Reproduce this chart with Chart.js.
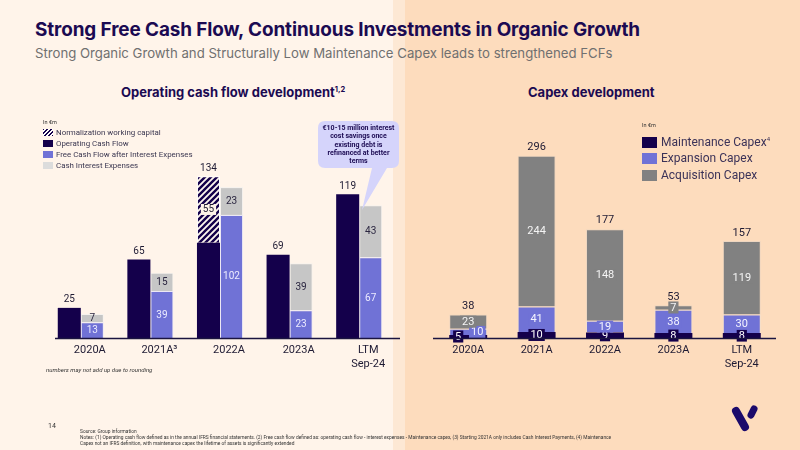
<!DOCTYPE html>
<html>
<head>
<meta charset="utf-8">
<script src="https://cdn.jsdelivr.net/npm/chart.js@4.4.1/dist/chart.umd.min.js"></script>
<style>
body{margin:0;}
#slide{position:relative;width:800px;height:450px;overflow:hidden;font-family:Roboto,sans-serif;
  background:linear-gradient(to right,#fff4ea 0,#fff4ea 393px,#fde8d4 393px,#fde8d4 405px,#fddcbd 405px);}
.abs{position:absolute;white-space:nowrap;}
#title{left:35px;top:18px;font-family:Inter,sans-serif;font-size:18.9px;font-weight:700;color:#1b0a52;letter-spacing:-0.1px;}
#subtitle{left:35px;top:45px;font-family:Inter,sans-serif;font-size:13.2px;color:#707070;}
.sect{top:84px;font-family:Inter,sans-serif;font-size:13px;font-weight:700;color:#1b0a52;}
.sect sup{font-size:7.5px;}
.unit{font-size:5.5px;color:#333;}
.legA div.row{height:11px;line-height:11px;font-size:7.9px;color:#3a3650;display:flex;align-items:center;}
.legA .sw{width:10px;height:7px;margin-right:3px;display:inline-block;}
.legB div.row{height:16.5px;line-height:16.5px;font-size:12px;color:#3b3258;display:flex;align-items:center;}
.legB .sw{width:15px;height:11px;margin-right:4px;display:inline-block;}
.hatch{background:repeating-linear-gradient(135deg,#14004b 0 1.4px,#fff 1.4px 2.8px);}
#callout{left:318px;top:121px;width:81px;height:47px;font-size:7px;font-weight:700;color:#1b0a52;
  text-align:center;line-height:8.3px;padding-top:3px;box-sizing:border-box;}
#note{left:46px;top:366px;font-size:6px;font-style:italic;color:#333;}
#page{left:48px;top:422px;font-size:7px;color:#333;}
#foot{left:80px;top:429px;font-size:4.85px;line-height:6px;color:#333;}
.cv{position:absolute;top:100px;width:400px;height:300px;}
</style>
</head>
<body>
<div id="slide">
  <div class="abs" id="title">Strong Free Cash Flow, Continuous Investments in Organic Growth</div>
  <div class="abs" id="subtitle">Strong Organic Growth and Structurally Low Maintenance Capex leads to strengthened FCFs</div>
  <div class="abs sect" style="left:121px;">Operating cash flow development<sup>1,2</sup></div>
  <div class="abs sect" style="left:528px;">Capex development</div>

  <div class="cv" style="left:0;"><canvas id="cfChart"></canvas></div>
  <div class="cv" style="left:400px;"><canvas id="capexChart"></canvas></div>

  <div class="abs legA" style="left:43px;top:119px;">
    <div class="unit" style="height:8px;">In €m</div>
    <div class="row"><span class="sw hatch"></span>Normalization working capital</div>
    <div class="row"><span class="sw" style="background:#14004b"></span>Operating Cash Flow</div>
    <div class="row"><span class="sw" style="background:#7072d6"></span>Free Cash Flow after Interest Expenses</div>
    <div class="row"><span class="sw" style="background:#dcdcdc"></span>Cash Interest Expenses</div>
  </div>

  <div class="abs legB" style="left:642px;top:122px;">
    <div class="unit" style="height:11.75px;">In €m</div>
    <div class="row"><span class="sw" style="background:#14004b"></span>Maintenance Capex<sup style="font-size:6px;line-height:0;position:relative;top:-3px;">4</sup></div>
    <div class="row"><span class="sw" style="background:#7072d6"></span>Expansion Capex</div>
    <div class="row"><span class="sw" style="background:#818181"></span>Acquisition Capex</div>
  </div>

  <svg class="abs" style="left:0;top:0;" width="800" height="450">
    <path d="M325 121 H392 Q399 121 399 128 V161 Q399 168 392 168 H387 L362 210 L372 168 H325 Q318 168 318 161 V128 Q318 121 325 121 Z" fill="#d5d4fb"/>
    <line x1="736" y1="411" x2="745" y2="427" stroke="#1b0a6b" stroke-width="8" stroke-linecap="round"/>
    <line x1="754" y1="409" x2="751" y2="415" stroke="#1b0a6b" stroke-width="7" stroke-linecap="round"/>
  </svg>
  <div class="abs" id="callout">€10-15 million interest<br>cost savings once<br>existing debt is<br>refinanced at better<br>terms</div>

  <div class="abs" id="note">numbers may not add up due to rounding</div>
  <div class="abs" id="page">14</div>
  <div class="abs" id="foot">Source: Group information<br>Notes: (1) Operating cash flow defined as in the annual IFRS financial statements. (2) Free cash flow defined as: operating cash flow - interest expenses - Maintenance capex, (3) Starting 2021A only includes Cash Interest Payments, (4) Maintenance<br>Capex not an IFRS definition, with maintenance capex the lifetime of assets is significantly extended</div>
</div>

<script>
// operating cash flow chart data (in €m)
var cfLabels = ['2020A', '2021A³', '2022A', '2023A', ['LTM', 'Sep-24']];
var ocf = [25, 65, 79, 69, 119];
var normalization = [null, null, 55, null, null];
var ocfTotal = [25, 65, 134, 69, 119];
var fcf = [13, 39, 102, 23, 67];
var interest = [7, 15, 23, 39, 43];

// capex chart data (in €m)
var capexLabels = ['2020A', '2021A', '2022A', '2023A', ['LTM', 'Sep-24']];
var maintenance = [5, 10, 9, 8, 8];
var expansion = [10, 41, 19, 38, 30];
var acquisition = [23, 244, 148, 7, 119];
var capexTotal = [38, 296, 177, 53, 157];

var NAVY = '#14004b';
var LAV = '#7072d6';

Chart.defaults.font.family = 'Roboto';
Chart.defaults.animation = false;

// hatched fill for normalization working capital
var pc = document.createElement('canvas');
pc.width = 6; pc.height = 6;
var px = pc.getContext('2d');
px.fillStyle = '#fdf6ee';
px.fillRect(0, 0, 6, 6);
px.strokeStyle = NAVY;
px.lineWidth = 2.4;
px.beginPath();
px.moveTo(-1, 7); px.lineTo(7, -1);
px.moveTo(-4, 4); px.lineTo(4, -4);
px.moveTo(2, 10); px.lineTo(10, 2);
px.stroke();
var hatch = px.createPattern(pc, 'repeat');

var valueLabels = {
  id: 'valueLabels',
  afterDatasetsDraw: function(chart, args, opts) {
    var ctx = chart.ctx;
    ctx.save();
    ctx.textAlign = 'center';
    ctx.textBaseline = 'middle';
    ctx.font = opts.size + 'px Roboto';
    var shifts = opts.shifts || {};
    chart.data.datasets.forEach(function(ds, di) {
      if (!ds.lbl) return;
      var meta = chart.getDatasetMeta(di);
      ds.data.forEach(function(v, i) {
        if (v == null) return;
        var el = meta.data[i];
        var x = el.x + (shifts[di + '-' + i] || 0);
        var y = (el.y + el.base) / 2;
        var t = String(v);
        if (ds.lbl.bg) {
          var w = ctx.measureText(t).width + 4;
          var h = opts.size + 1;
          ctx.fillStyle = ds.lbl.bg;
          ctx.fillRect(x - w / 2, y - h / 2, w, h);
        }
        ctx.fillStyle = ds.lbl.color;
        ctx.fillText(t, x, y + 0.5);
      });
    });
    var tot = opts.totals;
    var am = chart.getDatasetMeta(tot.anchor);
    var ys = chart.scales.y;
    ctx.fillStyle = tot.color;
    tot.data.forEach(function(v, i) {
      ctx.fillText(String(v), am.data[i].x, ys.getPixelForValue(v) - tot.gap);
    });
    var a = chart.chartArea, b = opts.baseline;
    ctx.strokeStyle = b.color;
    ctx.lineWidth = b.width;
    ctx.beginPath();
    ctx.moveTo(a.left + b.l, a.bottom + 0.5);
    ctx.lineTo(a.right + b.r, a.bottom + 0.5);
    ctx.stroke();
    ctx.restore();
  }
};

function xAxis(offset) {
  return {
    stacked: true,
    grid: {display: false, drawTicks: false},
    border: {display: false},
    ticks: {color: '#1e1a33', padding: 5, labelOffset: offset, maxRotation: 0,
      font: {size: 11, lineHeight: 1.27}}
  };
}

new Chart(document.getElementById('cfChart'), {
  type: 'bar',
  data: {
    labels: cfLabels,
    datasets: [
      {label: 'Operating Cash Flow', data: ocf, stack: 'ocf', backgroundColor: NAVY},
      {label: 'Normalization working capital', data: normalization, stack: 'ocf', backgroundColor: hatch,
        borderColor: '#ffffff', borderWidth: 1, lbl: {color: '#1e1a33', bg: '#fdf3e8'}},
      {label: 'Free Cash Flow after Interest Expenses', data: fcf, stack: 'fcf', backgroundColor: LAV,
        borderColor: '#ece8f4', borderWidth: 1, lbl: {color: '#ecebff'}},
      {label: 'Cash Interest Expenses', data: interest, stack: 'fcf', backgroundColor: '#c6c6c6',
        borderColor: '#f6f2ee', borderWidth: 1, lbl: {color: '#2b2640'}}
    ]
  },
  options: {
    responsive: true,
    maintainAspectRatio: false,
    categoryPercentage: 0.662,
    barPercentage: 1,
    layout: {padding: {left: 46, right: 6, top: 69, bottom: 24}},
    scales: {
      x: xAxis(9),
      y: {stacked: true, display: false, min: 0, max: 140}
    },
    plugins: {
      legend: {display: false},
      tooltip: {enabled: false},
      valueLabels: {
        size: 10,
        totals: {data: ocfTotal, anchor: 0, gap: 8, color: '#1e1a33'},
        baseline: {color: '#1b1440', width: 1.5, l: 9, r: 11}
      }
    }
  },
  plugins: [valueLabels]
});

new Chart(document.getElementById('capexChart'), {
  type: 'bar',
  data: {
    labels: capexLabels,
    datasets: [
      {label: 'Maintenance Capex', data: maintenance, backgroundColor: NAVY,
        lbl: {color: '#ffffff', bg: NAVY}},
      {label: 'Expansion Capex', data: expansion, backgroundColor: LAV,
        borderColor: '#f2e0d0', borderWidth: 1, lbl: {color: '#f4f4ff', bg: LAV}},
      {label: 'Acquisition Capex', data: acquisition, backgroundColor: '#818181',
        borderColor: '#eed6c0', borderWidth: 1, lbl: {color: '#f4f4f4', bg: '#818181'}}
    ]
  },
  options: {
    responsive: true,
    maintainAspectRatio: false,
    categoryPercentage: 0.555,
    barPercentage: 1,
    layout: {padding: {left: 34, right: 24, top: 52, bottom: 24}},
    scales: {
      x: xAxis(0),
      y: {stacked: true, display: false, min: 0, max: 301}
    },
    plugins: {
      legend: {display: false},
      tooltip: {enabled: false},
      valueLabels: {
        size: 11,
        shifts: {'0-0': -10, '1-0': 9},
        totals: {data: capexTotal, anchor: 0, gap: 8, color: '#1e1a33'},
        baseline: {color: '#1b1440', width: 1.5, l: -1, r: 0}
      }
    }
  },
  plugins: [valueLabels]
});
</script>
</body>
</html>
